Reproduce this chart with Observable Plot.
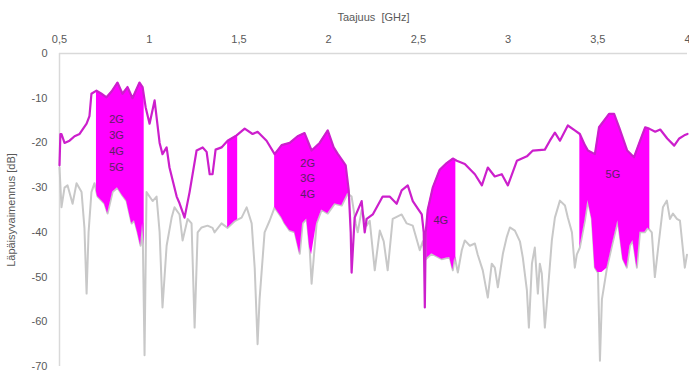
<!DOCTYPE html>
<html>
<head>
<meta charset="utf-8">
<script src="https://cdn.jsdelivr.net/npm/d3@7"></script>
<script src="https://cdn.jsdelivr.net/npm/@observablehq/plot@0.6"></script>
<style>
  html, body { margin: 0; padding: 0; background: #fff; }
</style>
</head>
<body>
<div id="chart"></div>
<script>
// Upper (magenta) curve: frequency [GHz] and attenuation [dB]
const magentaFreq = [0.5,0.505,0.511,0.528,0.556,0.584,0.612,0.651,0.667,0.678,0.706,0.734,0.762,0.79,0.823,0.851,0.879,0.907,0.929,0.946,0.963,0.98,1.002,1.03,1.058,1.074,1.097,1.113,1.153,1.169,1.197,1.225,1.264,1.298,1.32,1.337,1.353,1.37,1.403,1.437,1.487,1.532,1.576,1.604,1.654,1.699,1.738,1.783,1.827,1.866,1.905,1.95,1.995,2.028,2.05,2.078,2.095,2.112,2.123,2.128,2.145,2.184,2.201,2.212,2.246,2.301,2.34,2.379,2.407,2.441,2.469,2.497,2.519,2.53,2.536,2.541,2.552,2.58,2.619,2.658,2.692,2.714,2.759,2.815,2.854,2.887,2.926,2.965,2.999,3.049,3.105,3.138,3.205,3.233,3.261,3.289,3.333,3.372,3.4,3.428,3.445,3.484,3.507,3.563,3.591,3.619,3.664,3.702,3.736,3.764,3.786,3.82,3.848,3.887,3.926,3.954,3.982,4.0];
const magentaDb = [-25,-18,-18,-20,-19.5,-18.5,-18,-15.7,-14,-9,-8.3,-9,-9.8,-8.5,-6.5,-9,-7.5,-10,-8,-6.5,-7.5,-12,-15.7,-10.5,-20,-22.5,-21,-25.5,-32,-33.5,-36.7,-31,-21.7,-21,-22,-27,-27,-21.5,-21,-19.5,-18.3,-16.8,-18,-17.5,-19.5,-22.5,-20.5,-20,-18.5,-17.8,-21.7,-20,-17.2,-21,-22.4,-24,-25,-30.6,-40,-49,-36.7,-33,-40,-37,-36,-32,-32,-33.6,-30.6,-29.5,-33,-34.7,-36,-40,-56.8,-40,-35,-30,-26,-24.5,-23.5,-24,-24.7,-27,-29.5,-25.5,-27.5,-27,-29.5,-24,-23,-21.7,-21.5,-19.5,-17.7,-19.5,-16.1,-17.2,-18,-20.5,-21.7,-22.5,-16.5,-13.5,-13.5,-16.5,-21.7,-23.2,-19.5,-16.5,-16.8,-17.5,-17,-19,-20.6,-19,-18.3,-18];

// Lower (grey) curve
const grayFreq = [0.5,0.511,0.528,0.545,0.573,0.595,0.623,0.639,0.651,0.662,0.678,0.695,0.712,0.751,0.768,0.796,0.823,0.846,0.874,0.902,0.918,0.935,0.952,0.963,0.974,0.985,1.019,1.041,1.058,1.074,1.097,1.125,1.141,1.169,1.186,1.214,1.236,1.253,1.27,1.292,1.325,1.353,1.364,1.403,1.437,1.476,1.515,1.543,1.571,1.588,1.604,1.615,1.643,1.671,1.699,1.738,1.755,1.783,1.811,1.839,1.855,1.878,1.894,1.905,1.933,1.961,1.995,2.034,2.073,2.106,2.128,2.151,2.162,2.184,2.212,2.229,2.257,2.285,2.307,2.329,2.357,2.407,2.435,2.469,2.508,2.525,2.541,2.575,2.63,2.675,2.692,2.703,2.72,2.742,2.759,2.787,2.815,2.831,2.859,2.887,2.909,2.926,2.943,2.971,2.993,3.01,3.038,3.066,3.082,3.105,3.116,3.133,3.149,3.166,3.177,3.188,3.205,3.222,3.244,3.261,3.289,3.317,3.333,3.356,3.372,3.383,3.4,3.428,3.445,3.467,3.484,3.501,3.512,3.523,3.551,3.579,3.612,3.64,3.662,3.679,3.696,3.718,3.735,3.762,3.779,3.801,3.818,3.835,3.863,3.885,3.902,3.919,3.941,3.958,3.985,3.997];
const grayDb = [-25.5,-34.4,-30,-29.5,-33.6,-29,-31,-39,-53.7,-40,-31,-29,-32,-33.6,-35.8,-31,-30,-31.5,-33,-38,-37.4,-40,-43,-38,-67.5,-31,-33,-32,-40,-56.8,-43,-36.7,-34.4,-36,-41.8,-37,-38,-61.3,-40,-38.9,-38.5,-39,-40,-38,-39,-37.5,-36.7,-34.4,-38,-48,-65,-55,-40,-37.4,-34.4,-36.7,-38,-39.6,-40,-44.8,-38,-37,-43.4,-51.5,-38,-35,-35.8,-33.6,-34,-31.3,-32,-38,-40,-35,-38.5,-37.4,-48.5,-39.6,-42,-48.5,-37,-36,-38,-38.5,-44,-42,-46,-44.8,-46,-45.6,-48.5,-45.6,-49,-44,-41.8,-43,-42.5,-45,-48.5,-54.6,-47,-47.9,-52.3,-44.8,-41,-38.9,-39.6,-42,-45.6,-53,-61.3,-47,-43.4,-53.7,-47,-49.2,-61.3,-53,-41.8,-36.7,-32.9,-34,-36.7,-40,-47.9,-45,-43.4,-37.4,-32.9,-37,-47.9,-49,-68.7,-55,-48,-43,-37.4,-46,-47.9,-43,-41.8,-47.9,-40,-40,-39,-40,-50,-44,-34.4,-32.9,-37,-35.8,-37,-37.4,-47.9,-45];

// Shaded frequency bands (GHz) and the lowest level each shading reaches (dB)
const bandStart = [0.706, 1.437, 1.699, 2.547, 3.40];
const bandEnd   = [0.972, 1.493, 2.117, 2.709, 3.79];
const bandFloor = [-43, -40, -45, -49, -49];

// Band labels
const labelText = ["2G\n3G\n4G\n5G", "2G\n3G\n4G", "4G", "5G"];
const labelFreq = [0.818, 1.883, 2.625, 3.584];
const labelDb   = [-19.7, -27.7, -36.9, -26.8];

// Axis ticks
const xTicks = [0.5, 1, 1.5, 2, 2.5, 3, 3.5, 4];
const yTicks = [0, -10, -20, -30, -40, -50, -60, -70];

// ---- build tables ----
const magenta = magentaFreq.map((f, i) => ({f, db: magentaDb[i]}));
const gray = grayFreq.map((f, i) => ({f, db: grayDb[i]}));

function interp(xs, ys, x) {
  const i = d3.bisectRight(xs, x);
  if (i <= 0) return ys[0];
  if (i >= xs.length) return ys[ys.length - 1];
  const x0 = xs[i - 1], x1 = xs[i];
  const t = (x - x0) / (x1 - x0);
  return ys[i - 1] + t * (ys[i] - ys[i - 1]);
}

const fillRows = [];
bandStart.forEach((a, k) => {
  const b = bandEnd[k];
  const fs = Array.from(new Set([a, b,
    ...magentaFreq.filter(f => f > a && f < b),
    ...grayFreq.filter(f => f > a && f < b)])).sort((p, q) => p - q);
  for (const f of fs) {
    fillRows.push({band: k, f,
      top: interp(magentaFreq, magentaDb, f),
      bottom: Math.max(bandFloor[k], interp(grayFreq, grayDb, f))});
  }
});

const labels = labelText.map((t, i) => ({t, f: labelFreq[i], db: labelDb[i]}));

const fmt = d => String(d).replace(".", ",");

const chart = Plot.plot({
  width: 689,
  height: 373,
  marginLeft: 59,
  marginRight: 2,
  marginTop: 53,
  marginBottom: 7,
  x: {domain: [0.5, 4]},
  y: {domain: [-70, 0]},
  style: {fontFamily: "'Liberation Sans', Arial, sans-serif", fontSize: "11px", color: "#595959", background: "#fff", overflow: "visible"},
  marks: [
    Plot.ruleX([0.5], {stroke: "#d9d9d9", strokeWidth: 1.5}),
    Plot.ruleY([0], {stroke: "#d9d9d9", strokeWidth: 1.5}),
    Plot.axisX({anchor: "top", ticks: xTicks, tickFormat: fmt, tickSize: 0, tickPadding: 11,
      label: "Taajuus  [GHz]", labelAnchor: "center", labelArrow: "none", labelOffset: 40}),
    Plot.axisY({ticks: yTicks, tickFormat: d => String(d), tickSize: 0, tickPadding: 12,
      label: "Läpäisyvaimennus [dB]", labelAnchor: "center", labelArrow: "none", labelOffset: 52}),
    Plot.line(gray, {x: "f", y: "db", stroke: "#c8c8c8", strokeWidth: 2}),
    Plot.areaY(fillRows, {x: "f", y1: "bottom", y2: "top", z: "band", fill: "#ff00ff", fillOpacity: 1}),
    Plot.line(magenta, {x: "f", y: "db", stroke: "#cc1fcc", strokeWidth: 2.2}),
    Plot.text(labels, {x: "f", y: "db", text: "t", fill: "#5c1f66", fontSize: 11, lineHeight: 1.45})
  ]
});
document.getElementById("chart").appendChild(chart);
</script>
</body>
</html>
